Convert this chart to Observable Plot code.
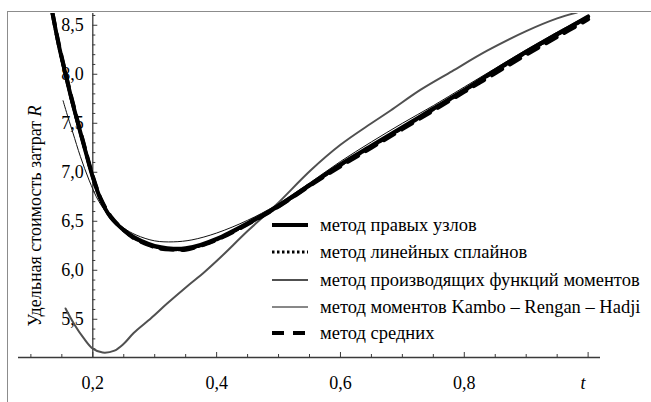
<!DOCTYPE html>
<html><head><meta charset="utf-8">
<script src="https://cdn.jsdelivr.net/npm/d3@7"></script>
<script src="https://cdn.jsdelivr.net/npm/@observablehq/plot@0.6"></script>
<style>
html,body{margin:0;padding:0;background:#fff;}
#wrap{position:relative;width:651px;height:402px;overflow:hidden;}
#frame{position:absolute;left:7px;top:11px;width:700px;height:500px;border-top:1.5px solid #8c8c8c;border-left:1.5px solid #8c8c8c;pointer-events:none;}
svg text{font-family:'Liberation Serif','Times New Roman',Tinos,'DejaVu Serif',serif !important;}
</style></head><body><div id="wrap"><div id="frame"></div></div>
<script>
// ---- data ----
const seriesNames = ["метод правых узлов","метод линейных сплайнов","метод производящих функций моментов","метод моментов Kambo – Rengan – Hadji","метод средних"];
const tRight = [0.135,0.145,0.156,0.166,0.176,0.188,0.2,0.213,0.229,0.25,0.266,0.29,0.31,0.33,0.35,0.374,0.4,0.45,0.5,0.55,0.6,0.65,0.7,0.75,0.8,0.85,0.9,0.95,1.0];
const rRight = [8.62,8.30,8.00,7.74,7.50,7.22,6.95,6.72,6.54,6.41,6.34,6.27,6.235,6.22,6.225,6.26,6.32,6.48,6.66,6.87,7.08,7.27,7.46,7.65,7.84,8.04,8.23,8.41,8.59];
const tSpline = [0.135,0.145,0.156,0.166,0.176,0.188,0.2,0.213,0.229,0.25,0.266,0.29,0.31,0.33,0.35,0.374,0.4,0.45,0.5,0.55,0.6,0.65,0.7,0.75,0.8,0.85,0.9,0.95,1.0];
const rSpline = [8.61,8.29,7.99,7.73,7.49,7.22,6.95,6.72,6.54,6.41,6.33,6.26,6.225,6.21,6.215,6.25,6.31,6.47,6.65,6.86,7.07,7.26,7.45,7.64,7.83,8.03,8.22,8.40,8.58];
const tGen = [0.156,0.17,0.185,0.2,0.216,0.235,0.25,0.266,0.294,0.32,0.353,0.38,0.406,0.45,0.495,0.552,0.6,0.65,0.681,0.729,0.78,0.837,0.9,0.95,0.982];
const rGen = [5.61,5.45,5.31,5.20,5.16,5.18,5.25,5.36,5.51,5.66,5.84,5.98,6.13,6.40,6.66,7.02,7.28,7.50,7.63,7.84,8.03,8.24,8.44,8.57,8.63];
const tKRH = [0.152,0.16,0.168,0.18,0.194,0.21,0.23,0.25,0.27,0.3,0.33,0.36,0.4,0.45,0.495,0.55,0.6,0.65,0.7,0.75,0.8,0.85,0.9,0.95,1.0];
const rKRH = [7.73,7.56,7.40,7.16,6.92,6.70,6.53,6.43,6.36,6.30,6.29,6.31,6.38,6.51,6.66,6.89,7.11,7.31,7.50,7.68,7.87,8.06,8.25,8.43,8.60];
const tMean = [0.135,0.145,0.156,0.166,0.176,0.188,0.2,0.213,0.229,0.25,0.266,0.29,0.31,0.33,0.35,0.374,0.4,0.45,0.5,0.55,0.6,0.65,0.7,0.75,0.8,0.85,0.9,0.95,1.0];
const rMean = [8.62,8.31,8.01,7.75,7.51,7.23,6.96,6.73,6.55,6.41,6.33,6.26,6.22,6.21,6.21,6.25,6.31,6.47,6.65,6.86,7.06,7.25,7.44,7.63,7.82,8.01,8.20,8.38,8.56];
const xMajor = [0.2,0.4,0.6,0.8,1.0];
const xMinor = [0.1,0.15,0.25,0.3,0.35,0.45,0.5,0.55,0.65,0.7,0.75,0.85,0.9,0.95];
const xLabels = [0.2,0.4,0.6,0.8];
const yMajor = [5.5,6.0,6.5,7.0,7.5,8.0,8.5];
const yMinor = [5.2,5.3,5.4,5.6,5.7,5.8,5.9,6.1,6.2,6.3,6.4,6.6,6.7,6.8,6.9,7.1,7.2,7.3,7.4,7.6,7.7,7.8,7.9,8.1,8.2,8.3,8.4,8.6];
const xTitle = "t";
const yTitle = "Удельная стоимость затрат ";
const yTitleVar = "R";

// ---- layout ----
const W = 651, H = 402, mL = 18, mR = 51, mT = 13, mB = 45;
const xDom = [0.08, 1.02], yDom = [5.11, 8.62];
const kx = (xDom[1]-xDom[0])/(W-mL-mR), ky = (yDom[1]-yDom[0])/(H-mT-mB);
const yAxisAt = 0.2, xAxisAt = yDom[0];
const font = "'Liberation Serif','Times New Roman',Tinos,'DejaVu Serif',serif";
const axisColor = "#3a3a3a";
const fmt = d => d.toFixed(1).replace(".", ",");
const pts = (t, r) => t.map((x, i) => ({x, y: r[i]}));

const styles = [
  {stroke: "#000", strokeWidth: 4},
  {stroke: "#000", strokeWidth: 3.2, strokeDasharray: "2.5,2.5"},
  {stroke: "#505050", strokeWidth: 2},
  {stroke: "#111", strokeWidth: 1},
  {stroke: "#000", strokeWidth: 4, strokeDasharray: "12,9"}
];

const chart = Plot.plot({
  width: W, height: H, marginLeft: mL, marginRight: mR, marginTop: mT, marginBottom: mB,
  x: {domain: xDom, axis: null},
  y: {domain: yDom, axis: null},
  style: {fontFamily: font, fontSize: "18px", background: "transparent", color: "#000"},
  marks: [
    Plot.ruleY([xAxisAt], {stroke: axisColor, strokeWidth: 1.3}),
    Plot.ruleX([yAxisAt], {stroke: axisColor, strokeWidth: 1.3}),
    Plot.ruleX(xMajor, {x: d => d, y1: xAxisAt, y2: xAxisAt + 5*ky, stroke: axisColor}),
    Plot.ruleX(xMinor, {x: d => d, y1: xAxisAt, y2: xAxisAt + 3*ky, stroke: axisColor}),
    Plot.ruleY(yMajor, {y: d => d, x1: yAxisAt, x2: yAxisAt + 5*kx, stroke: axisColor}),
    Plot.ruleY(yMinor, {y: d => d, x1: yAxisAt, x2: yAxisAt + 3*kx, stroke: axisColor}),
    Plot.text(xLabels, {x: d => d, y: xAxisAt, dy: 26, text: fmt, fontSize: 18}),
    Plot.text([xTitle], {x: 1.0, y: xAxisAt, dy: 26, dx: -5, text: d => d, fontSize: 18, fontStyle: "italic"}),
    Plot.text(yMajor, {x: yAxisAt, y: d => d, dx: -9, textAnchor: "end", text: fmt, fontSize: 18}),
    Plot.line(pts(tGen, rGen), {x: "x", y: "y", curve: "catmull-rom", clip: true, ...styles[2]}),
    Plot.line(pts(tKRH, rKRH), {x: "x", y: "y", curve: "catmull-rom", clip: true, ...styles[3]}),
    Plot.line(pts(tRight, rRight), {x: "x", y: "y", curve: "catmull-rom", clip: true, ...styles[0]}),
    Plot.line(pts(tSpline, rSpline), {x: "x", y: "y", curve: "catmull-rom", clip: true, ...styles[1]}),
    Plot.line(pts(tMean, rMean), {x: "x", y: "y", curve: "catmull-rom", clip: true, ...styles[4]})
  ]
});
document.getElementById("wrap").prepend(chart);

// y-axis title (with italic variable)
const svg = d3.select(chart);
const yt = svg.append("text")
  .attr("transform", "translate(41,216) rotate(-90)")
  .attr("text-anchor", "middle")
  .attr("font-size", 18).attr("fill", "#000");
yt.append("tspan").text(yTitle);
yt.append("tspan").attr("font-style", "italic").text(yTitleVar);

// legend
const lg = svg.append("g").attr("font-size", 18.5).attr("text-anchor", "start");
const rowY = [225, 252, 280, 307, 333];
seriesNames.forEach((name, i) => {
  const s = styles[i];
  lg.append("line").attr("x1", 272).attr("x2", 308).attr("y1", rowY[i]).attr("y2", rowY[i])
    .attr("stroke", s.stroke).attr("stroke-width", s.strokeWidth)
    .attr("stroke-dasharray", s.strokeDasharray || null);
  lg.append("text").attr("x", 320).attr("y", rowY[i] + 6).attr("text-anchor", "start").attr("fill", "#000").text(name);
});
</script>
</body></html>
